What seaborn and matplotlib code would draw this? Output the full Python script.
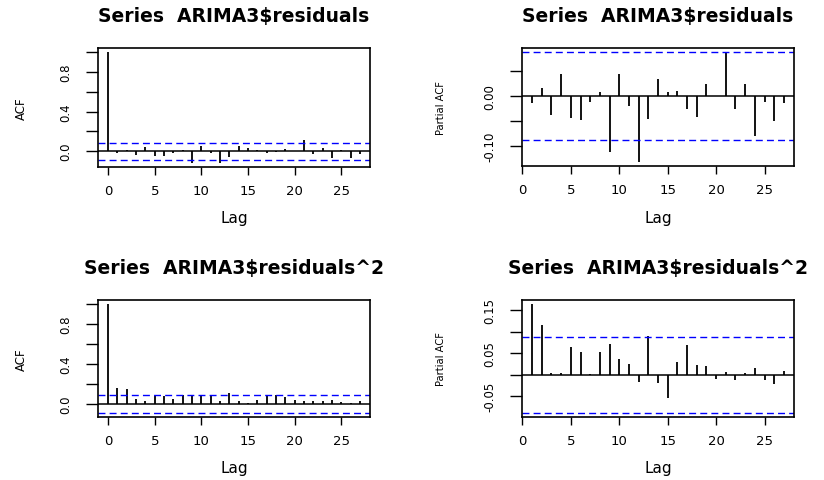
import matplotlib
matplotlib.use("Agg")
import matplotlib.pyplot as plt
import seaborn as sns

# ---------------- data ----------------
lags_acf = list(range(0, 28))
lags_pacf = list(range(1, 28))

acf_res = [1.0, -0.014, 0.015, -0.04, 0.045, -0.047, -0.047, -0.014, 0.015,
           -0.115, 0.05, -0.02, -0.115, -0.06, 0.05, 0.03, 0.01, -0.017,
           -0.007, 0.02, 0.003, 0.11, -0.03, 0.03, -0.07, 0.013, -0.07, -0.03]

pacf_res = [-0.014, 0.016, -0.037, 0.044, -0.044, -0.048, -0.012, 0.009,
            -0.111, 0.044, -0.019, -0.131, -0.046, 0.034, 0.009, 0.011,
            -0.025, -0.042, 0.025, 0.001, 0.086, -0.025, 0.025, -0.079,
            -0.011, -0.050, -0.014]

acf_sq = [1.0, 0.164, 0.146, 0.046, 0.026, 0.08, 0.08, 0.046, 0.086, 0.093,
          0.086, 0.08, 0.026, 0.11, 0.033, 0.005, 0.04, 0.086, 0.086, 0.073,
          0.04, 0.033, 0.026, 0.033, 0.04, 0.02, 0.013, 0.033]

pacf_sq = [0.164, 0.115, 0.005, 0.005, 0.064, 0.052, 0.003, 0.052, 0.072,
           0.037, 0.025, -0.017, 0.09, -0.020, -0.055, 0.031, 0.070, 0.023,
           0.020, -0.009, 0.006, -0.011, 0.005, 0.017, -0.011, -0.021, 0.008]

conf_limit = 0.088

titles = ["Series  ARIMA3$residuals", "Series  ARIMA3$residuals",
          "Series  ARIMA3$residuals^2", "Series  ARIMA3$residuals^2"]
ylabels = ["ACF", "Partial ACF", "ACF", "Partial ACF"]
xlabel = "Lag"

xticks = [0, 5, 10, 15, 20, 25]
xticklabels = ["0", "5", "10", "15", "20", "25"]
acf_yticks = [0.0, 0.2, 0.4, 0.6, 0.8, 1.0]
acf_yticklabels = ["0.0", "", "0.4", "", "0.8", ""]
pacf_res_yticks = [-0.10, -0.05, 0.00, 0.05]
pacf_res_yticklabels = ["-0.10", "", "0.00", ""]
pacf_sq_yticks = [-0.05, 0.00, 0.05, 0.10, 0.15]
pacf_sq_yticklabels = ["-0.05", "", "0.05", "", "0.15"]

# ---------------- style ----------------
sns.set_theme(style="ticks")
plt.rcParams["font.family"] = ["DejaVu Sans"]
plt.rcParams["axes.linewidth"] = 1.2
plt.rcParams["axes.edgecolor"] = "black"
plt.rcParams["axes.labelcolor"] = "black"
plt.rcParams["axes.titlecolor"] = "black"
plt.rcParams["text.color"] = "black"
plt.rcParams["xtick.color"] = "black"
plt.rcParams["ytick.color"] = "black"
plt.rcParams["xtick.labelcolor"] = "black"
plt.rcParams["ytick.labelcolor"] = "black"

W, H = 824, 481
fig = plt.figure(figsize=(W / 100, H / 100), dpi=100)
fig.patch.set_facecolor("white")


def add_ax(l, t, r, b):
    return fig.add_axes([l / W, 1 - b / H, (r - l) / W, (b - t) / H])


boxes = [(98, 49, 370, 168), (522, 49, 794, 167),
         (98, 301, 370, 418), (522, 301, 794, 418)]

panels = [
    (lags_acf, acf_res, acf_yticks, acf_yticklabels),
    (lags_pacf, pacf_res, pacf_res_yticks, pacf_res_yticklabels),
    (lags_acf, acf_sq, acf_yticks, acf_yticklabels),
    (lags_pacf, pacf_sq, pacf_sq_yticks, pacf_sq_yticklabels),
]

for i, (box, (lags, vals, yt, ytl)) in enumerate(zip(boxes, panels)):
    ax = add_ax(*box)
    ax.set_facecolor("white")
    for s in ax.spines.values():
        s.set_visible(True)
        s.set_linewidth(1.2)
        s.set_color("black")

    ax.vlines(lags, 0, vals, color="black", lw=1.3)
    ax.axhline(0, color="black", lw=1.1)
    ax.axhline(conf_limit, color="#0000FF", lw=1.0, ls=(0, (5, 3)))
    ax.axhline(-conf_limit, color="#0000FF", lw=1.0, ls=(0, (5, 3)))

    # R-style 4% axis extension
    xlo, xhi = min(lags), max(lags)
    xe = 0.04 * (xhi - xlo)
    ax.set_xlim(xlo - xe, xhi + xe)
    ylo = min(min(vals), -conf_limit)
    yhi = max(max(vals), conf_limit)
    ye = 0.04 * (yhi - ylo)
    ax.set_ylim(ylo - ye, yhi + ye)

    ax.set_xticks(xticks)
    ax.set_xticklabels(xticklabels)
    ax.set_yticks(yt)
    ax.set_yticklabels(ytl)
    ax.tick_params(axis="x", length=6, width=1.0, pad=6, labelsize=9.5,
                   direction="out", colors="black")
    ax.tick_params(axis="y", length=8.6, width=1.0, pad=10, labelsize=8.5,
                   labelrotation=90, direction="out", colors="black")
    for lab in ax.get_yticklabels():
        lab.set_va("center")

    hbox = box[3] - box[1]
    ax.set_title(titles[i], fontsize=13.5, fontweight="bold", y=1 + 27.3 / hbox,
                 pad=0, color="black")
    ax.set_xlabel(xlabel, fontsize=11, va="center", color="black")
    ax.xaxis.set_label_coords(0.5, -51.0 / hbox)
    fs = 8.5 if ylabels[i] == "ACF" else 7.2
    ax.set_ylabel(ylabels[i], fontsize=fs, va="center", color="black")
    lx = 21 if i % 2 == 0 else 441
    ax.yaxis.set_label_coords((lx - box[0]) / (box[2] - box[0]), 0.5)

fig.savefig("out.png", dpi=100, facecolor="white")
